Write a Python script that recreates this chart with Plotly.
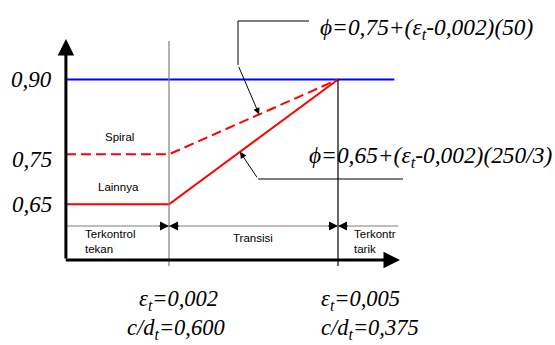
import plotly.graph_objects as go

# ---- data -------------------------------------------------------------
eps_origin = 0.00017          # strain at the vertical (phi) axis
eps_ty = 0.002                # compression-controlled limit
eps_tl = 0.005                # tension-controlled limit
eps_end = 0.006               # right end of the phi = 0.90 plateau
eps_axis_end = 0.0061         # tip of the strain axis

eps_points = [eps_origin, eps_ty, eps_tl]
phi_other = [0.65, 0.65, 0.90]     # "Lainnya"
phi_spiral = [0.75, 0.75, 0.90]    # "Spiral"
phi_max_x = [eps_origin, eps_end]
phi_max_y = [0.90, 0.90]

phi_ticks = [0.90, 0.75, 0.65]
phi_tick_text = ["0,90", "0,75", "0,65"]

limit_eps = [eps_ty, eps_tl]
limit_eps_text = ["ε<sub>t</sub>=0,002", "ε<sub>t</sub>=0,005"]
limit_cd_text = ["c/d<sub>t</sub>=0,600", "c/d<sub>t</sub>=0,375"]

formula_spiral = "ϕ=0,75+(ε<sub>t</sub>-0,002)(50)"
formula_other = "ϕ=0,65+(ε<sub>t</sub>-0,002)(250/3)"

# ---- canvas -----------------------------------------------------------
W, H = 555, 345
X_RANGE = [-0.001, 0.008852]
Y_RANGE = [0.3678, 1.0593]
SERIF = "Liberation Serif"
SANS = "Liberation Sans"


def px(v):
    return v / W


def py(v):
    return 1 - v / H


def y_at(pix):
    return Y_RANGE[1] - pix / H * (Y_RANGE[1] - Y_RANGE[0])


y_axis_base = y_at(260)
y_axis_top = y_at(39)
y_zone = y_at(226)
y_tick_bottom = y_at(266)
y_grid_top = y_at(41)

fig = go.Figure()

# phi = 0.90 plateau
fig.add_trace(go.Scatter(x=phi_max_x, y=phi_max_y, mode="lines",
                         line=dict(color="#0000ff", width=2.2)))
# spiral members
fig.add_trace(go.Scatter(x=eps_points, y=phi_spiral, mode="lines",
                         line=dict(color="#ff0000", width=2, dash="10px,5px")))
# other members
fig.add_trace(go.Scatter(x=eps_points, y=phi_other, mode="lines",
                         line=dict(color="#ff0000", width=2)))

shapes = [
    # strain limits
    dict(type="line", xref="x", yref="y", x0=eps_ty, x1=eps_ty,
         y0=y_tick_bottom, y1=y_grid_top, line=dict(color="#7f7f7f", width=1.2)),
    dict(type="line", xref="x", yref="y", x0=eps_tl, x1=eps_tl,
         y0=y_tick_bottom, y1=0.90, line=dict(color="#000000", width=1.2)),
    # zone divider row
    dict(type="line", xref="x", yref="y", x0=eps_origin, x1=0.00607,
         y0=y_zone, y1=y_zone, line=dict(color="#7f7f7f", width=1.2)),
    # leader lines for the formulas
    dict(type="path", xref="paper", yref="paper",
         path=f"M{px(238)},{py(65)} L{px(238)},{py(21)} L{px(309)},{py(21)}",
         line=dict(color="#000000", width=1)),
    dict(type="path", xref="paper", yref="paper",
         path=f"M{px(258)},{py(179)} L{px(403)},{py(179)}",
         line=dict(color="#000000", width=1)),
]

ann = []
# axes with arrows
ann.append(dict(x=eps_origin, y=y_axis_top, ax=eps_origin, ay=y_axis_base,
                xref="x", yref="y", axref="x", ayref="y", text="",
                showarrow=True, arrowhead=2, arrowsize=1.1, arrowwidth=3,
                arrowcolor="#000000", standoff=0))
ann.append(dict(x=eps_axis_end, y=y_axis_base, ax=eps_origin - 0.00003, ay=y_axis_base,
                xref="x", yref="y", axref="x", ayref="y", text="",
                showarrow=True, arrowhead=2, arrowsize=1.1, arrowwidth=3,
                arrowcolor="#000000", standoff=0))

# zone boundary arrows
for xe in limit_eps:
    for dx in (-11, 11):
        ann.append(dict(x=xe, y=y_zone, ax=dx, ay=0, xref="x", yref="y",
                        text="", showarrow=True, arrowhead=2, arrowsize=1.2,
                        arrowwidth=1.5, arrowcolor="#000000", standoff=0))

# formula callouts pointing at each curve
s_eps = 0.0036
ann.append(dict(x=s_eps, y=0.75 + (s_eps - 0.002) * 50, ax=-21, ay=-49,
                xref="x", yref="y", text="", showarrow=True, arrowhead=2,
                arrowsize=1.3, arrowwidth=1, arrowcolor="#000000", standoff=0))
o_eps = 0.00326
ann.append(dict(x=o_eps, y=0.65 + (o_eps - 0.002) * 250 / 3, ax=18, ay=27,
                xref="x", yref="y", text="", showarrow=True, arrowhead=2,
                arrowsize=1.3, arrowwidth=1, arrowcolor="#000000", standoff=0))

ann.append(dict(x=px(427), y=py(29), xref="paper", yref="paper",
                xanchor="center", yanchor="middle", showarrow=False,
                text=f"<i>{formula_spiral}</i>",
                font=dict(family=SERIF, size=23.4, color="#000000")))
ann.append(dict(x=px(430), y=py(157), xref="paper", yref="paper",
                xanchor="center", yanchor="middle", showarrow=False,
                text=f"<i>{formula_other}</i>",
                font=dict(family=SERIF, size=23.4, color="#000000")))

# phi tick labels
for v, t, dy in zip(phi_ticks, phi_tick_text, [0, -5, 0]):
    ann.append(dict(x=px(54), y=v, xref="paper", yref="y", xanchor="right",
                    yanchor="middle", yshift=dy, showarrow=False,
                    text=f"<i>{t}</i>",
                    font=dict(family=SERIF, size=23, color="#000000")))

# strain limit labels
for xe, t1, t2, s1, s2 in zip(limit_eps, limit_eps_text, limit_cd_text,
                              [9, 22], [7, 32]):
    ann.append(dict(x=xe, y=py(300), xref="x", yref="paper", xanchor="center",
                    yanchor="middle", xshift=s1, showarrow=False,
                    text=f"<i>{t1}</i>",
                    font=dict(family=SERIF, size=22.5, color="#000000")))
    ann.append(dict(x=xe, y=py(329), xref="x", yref="paper", xanchor="center",
                    yanchor="middle", xshift=s2, showarrow=False,
                    text=f"<i>{t2}</i>",
                    font=dict(family=SERIF, size=22.5, color="#000000")))

# small labels
small = dict(family=SANS, size=11.5, color="#000000")
ann.append(dict(x=px(119), y=py(137), xref="paper", yref="paper",
                xanchor="center", yanchor="middle", showarrow=False,
                text="Spiral", font=small))
ann.append(dict(x=px(118), y=py(187), xref="paper", yref="paper",
                xanchor="center", yanchor="middle", showarrow=False,
                text="Lainnya", font=small))
ann.append(dict(x=px(83), y=py(241), xref="paper", yref="paper",
                xanchor="left", yanchor="middle", align="left", showarrow=False,
                text="Terkontrol<br>tekan", font=small))
ann.append(dict(x=px(253), y=py(238), xref="paper", yref="paper",
                xanchor="center", yanchor="middle", showarrow=False,
                text="Transisi", font=small))
ann.append(dict(x=px(352), y=py(241), xref="paper", yref="paper",
                xanchor="left", yanchor="middle", align="left", showarrow=False,
                text="Terkontr<br>tarik", font=small))

fig.update_layout(
    width=W, height=H,
    margin=dict(l=0, r=0, t=0, b=0),
    paper_bgcolor="#ffffff", plot_bgcolor="#ffffff",
    showlegend=False,
    xaxis=dict(range=X_RANGE, visible=False, fixedrange=True),
    yaxis=dict(range=Y_RANGE, visible=False, fixedrange=True),
    shapes=shapes, annotations=ann,
)

fig.write_html("out.html")
